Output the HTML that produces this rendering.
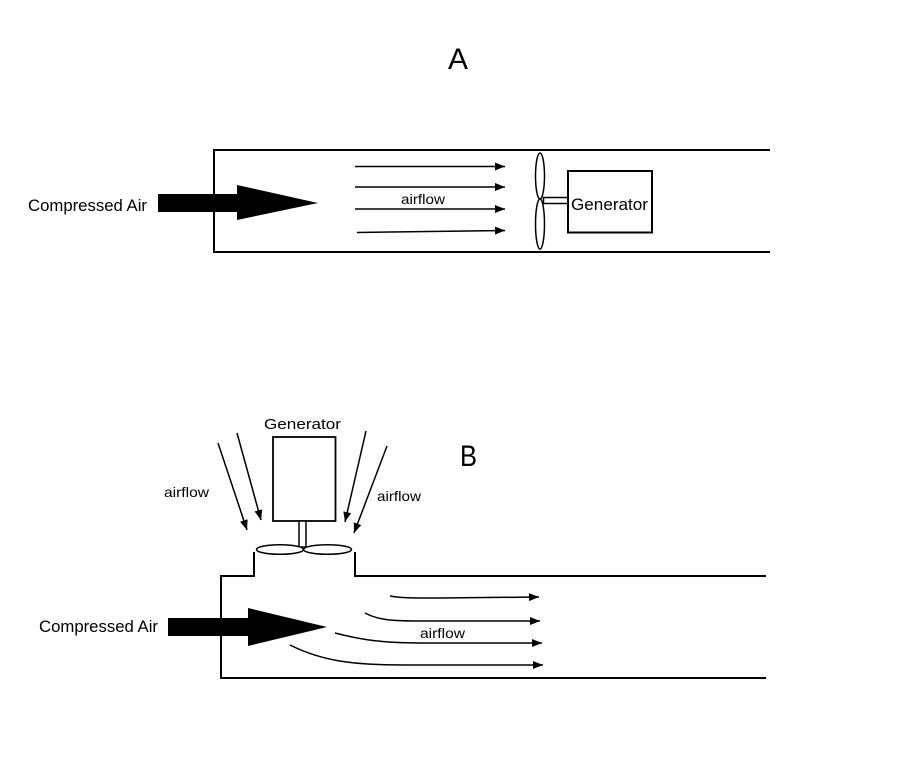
<!DOCTYPE html>
<html>
<head>
<meta charset="utf-8">
<style>
  html, body { margin: 0; padding: 0; background: #ffffff; }
  svg { display: block; }
  text { font-family: "Liberation Sans", "DejaVu Sans", sans-serif; fill: #000; }
</style>
</head>
<body>
<svg width="924" height="778" viewBox="0 0 924 778" xmlns="http://www.w3.org/2000/svg">
  <defs>
    <marker id="ah" markerUnits="userSpaceOnUse" markerWidth="11" markerHeight="9" refX="10" refY="4" orient="auto">
      <path d="M0,0 L10,4 L0,8 Z" fill="#000"/>
    </marker>
  </defs>
  <rect width="924" height="778" fill="#fff"/>

  <!-- ===== Panel A ===== -->
  <text x="448" y="69" font-size="30" textLength="20" lengthAdjust="spacingAndGlyphs">A</text>

  <!-- duct -->
  <path d="M770,150 L214,150 L214,252 L770,252" fill="none" stroke="#000" stroke-width="2"/>

  <!-- compressed air label + big arrow -->
  <text x="28" y="211" font-size="16.5" textLength="119" lengthAdjust="spacingAndGlyphs">Compressed Air</text>
  <polygon points="158,194 237,194 237,185 318,203 237,220 237,212 158,212" fill="#000"/>

  <!-- airflow arrows -->
  <g stroke="#000" stroke-width="1.5" fill="none" marker-end="url(#ah)">
    <line x1="355" y1="166.5" x2="505" y2="166.5"/>
    <line x1="355" y1="187" x2="505" y2="187"/>
    <line x1="355" y1="209" x2="505" y2="209"/>
    <line x1="357" y1="232.5" x2="505" y2="230.5"/>
  </g>
  <text x="401" y="204" font-size="14" textLength="44" lengthAdjust="spacingAndGlyphs">airflow</text>

  <!-- propeller -->
  <ellipse cx="540" cy="176" rx="4.5" ry="23" fill="#fff" stroke="#000" stroke-width="1.5"/>
  <ellipse cx="540" cy="224" rx="4.5" ry="25" fill="#fff" stroke="#000" stroke-width="1.5"/>
  <!-- shaft -->
  <rect x="543.5" y="197.5" width="24.5" height="6" fill="#fff" stroke="#000" stroke-width="1.5"/>
  <!-- generator -->
  <rect x="568" y="171" width="84" height="61.5" fill="#fff" stroke="#000" stroke-width="2"/>
  <text x="571" y="210" font-size="16.5" textLength="77" lengthAdjust="spacingAndGlyphs">Generator</text>

  <!-- ===== Panel B ===== -->
  <text x="460" y="466" font-size="30" textLength="17" lengthAdjust="spacingAndGlyphs">B</text>

  <!-- generator -->
  <text x="264" y="429" font-size="15" textLength="77" lengthAdjust="spacingAndGlyphs">Generator</text>
  <rect x="273" y="437" width="62.5" height="84" fill="#fff" stroke="#000" stroke-width="1.8"/>
  <rect x="299" y="521" width="7" height="26" fill="#fff" stroke="#000" stroke-width="1.5"/>
  <ellipse cx="280" cy="549.5" rx="23.5" ry="4.8" fill="#fff" stroke="#000" stroke-width="1.5"/>
  <ellipse cx="327.5" cy="549.5" rx="24" ry="4.8" fill="#fff" stroke="#000" stroke-width="1.5"/>

  <!-- diagonal airflow arrows -->
  <g stroke="#000" stroke-width="1.5" fill="none" marker-end="url(#ah)">
    <line x1="218" y1="443" x2="247" y2="530"/>
    <line x1="237" y1="433" x2="261" y2="520"/>
    <line x1="366" y1="431" x2="345" y2="522"/>
    <line x1="387" y1="446" x2="354" y2="533"/>
  </g>
  <text x="164" y="497" font-size="14" textLength="45" lengthAdjust="spacingAndGlyphs">airflow</text>
  <text x="377" y="501" font-size="14" textLength="44" lengthAdjust="spacingAndGlyphs">airflow</text>

  <!-- duct -->
  <path d="M254,552 L254,576 L221,576 L221,678 L766,678" fill="none" stroke="#000" stroke-width="2"/>
  <path d="M355,552 L355,576 L766,576" fill="none" stroke="#000" stroke-width="2"/>

  <!-- compressed air label + big arrow -->
  <text x="39" y="632" font-size="16.5" textLength="119" lengthAdjust="spacingAndGlyphs">Compressed Air</text>
  <polygon points="168,618 248,618 248,608 327,627 248,646 248,636 168,636" fill="#000"/>

  <!-- curved airflow arrows -->
  <g stroke="#000" stroke-width="1.5" fill="none" marker-end="url(#ah)">
    <path d="M390,596 C400,598 410,598 440,598 L539,597"/>
    <path d="M365,613 C378,620 392,621 420,621 L540,621"/>
    <path d="M335,633 C362,640 382,643 425,643 L542,643"/>
    <path d="M290,645 C322,661 352,665 405,665 L543,665"/>
  </g>
  <text x="420" y="638" font-size="14" textLength="45" lengthAdjust="spacingAndGlyphs">airflow</text>
</svg>
</body>
</html>
